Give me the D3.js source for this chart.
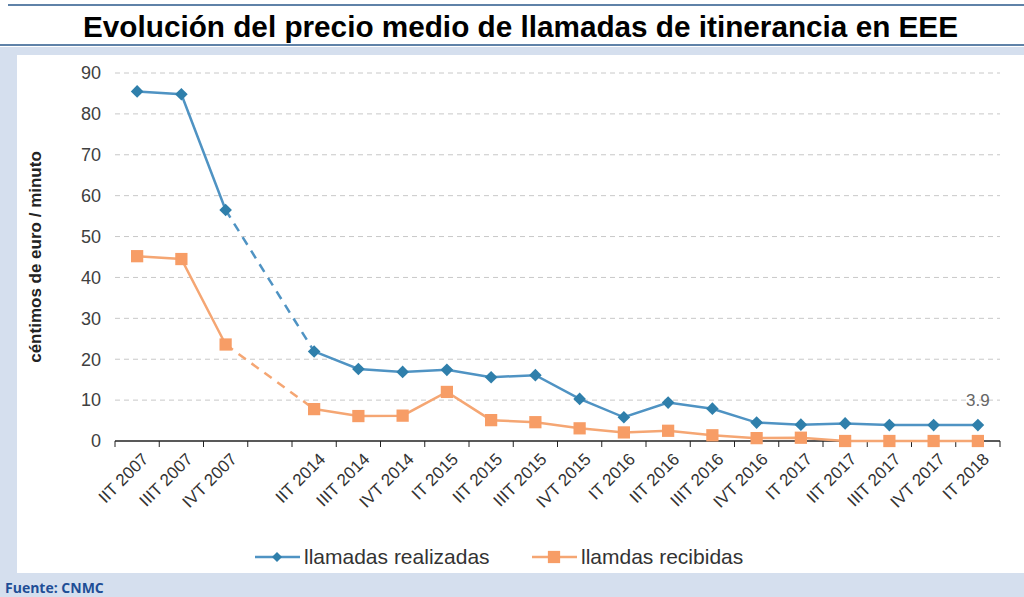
<!DOCTYPE html>
<html>
<head>
<meta charset="utf-8">
<script src="https://cdn.jsdelivr.net/npm/d3@7"></script>
<style>
  body { margin: 0; background: #fff; }
  svg { display: block; font-family: "Liberation Sans", Arial, sans-serif; }
</style>
</head>
<body>
<div id="chart"></div>
<script>
// categories ("" is the empty gap slot between 2007 and 2014)
let periods = ["IIT 2007", "IIIT 2007", "IVT 2007", "",
  "IIT 2014", "IIIT 2014", "IVT 2014", "IT 2015", "IIT 2015", "IIIT 2015", "IVT 2015",
  "IT 2016", "IIT 2016", "IIIT 2016", "IVT 2016", "IT 2017", "IIT 2017", "IIIT 2017",
  "IVT 2017", "IT 2018"];

let realizadas = [85.5, 84.8, 56.5, null,
  21.9, 17.6, 16.9, 17.4, 15.6, 16.1, 10.3,
  5.8, 9.4, 7.9, 4.5, 4.0, 4.3, 3.9, 3.9, 3.9];

let recibidas = [45.2, 44.5, 23.6, null,
  7.8, 6.1, 6.2, 12.0, 5.1, 4.6, 3.1,
  2.1, 2.5, 1.4, 0.7, 0.8, 0.0, 0.0, 0.0, 0.0];

let yTicks = [0, 10, 20, 30, 40, 50, 60, 70, 80, 90];

let width = 1024, height = 597;
let margin = { top: 73, right: 24, bottom: 156, left: 115 };
let chartWidth = width - margin.left - margin.right;
let chartHeight = height - margin.top - margin.bottom;

var svg = d3.select("#chart").append("svg")
  .attr("width", width)
  .attr("height", height);

// frame
svg.append("rect").attr("x", 0).attr("y", 47).attr("width", width).attr("height", height - 47).attr("fill", "#d5dfee");
svg.append("rect").attr("x", 17).attr("y", 55).attr("width", width - 17).attr("height", 518).attr("fill", "#fff");
svg.append("line").attr("x1", 8).attr("x2", width).attr("y1", 5).attr("y2", 5).attr("stroke", "#5f82a8").attr("stroke-width", 2);
svg.append("line").attr("x1", 0).attr("x2", width).attr("y1", 45).attr("y2", 45).attr("stroke", "#5f82a8").attr("stroke-width", 2);

svg.append("text")
  .attr("x", 83).attr("y", 37)
  .attr("textLength", 875).attr("lengthAdjust", "spacingAndGlyphs")
  .attr("font-size", 29).attr("font-weight", "bold")
  .attr("fill", "#000")
  .text("Evolución del precio medio de llamadas de itinerancia en EEE");

svg.append("text")
  .attr("x", 5).attr("y", 593)
  .attr("font-family", "'Open Sans', sans-serif")
  .attr("font-size", 14).attr("font-weight", "bold")
  .attr("fill", "#1f4e96")
  .text("Fuente: CNMC");

var g = svg.append("g")
  .attr("transform", "translate(" + margin.left + "," + margin.top + ")");

var xScale = d3.scaleBand()
  .domain(d3.range(periods.length))
  .range([0, chartWidth]);

var yScale = d3.scaleLinear()
  .domain([0, 90])
  .range([chartHeight, 0]);

var cx = i => xScale(i) + xScale.bandwidth() / 2;

// grid
g.selectAll(".grid")
  .data(yTicks.filter(d => d > 0))
  .enter().append("line")
  .attr("x1", 0).attr("x2", chartWidth)
  .attr("y1", d => yScale(d)).attr("y2", d => yScale(d))
  .attr("stroke", "#c8c8c8").attr("stroke-dasharray", "5,4");

// y axis labels
g.selectAll(".ylab")
  .data(yTicks)
  .enter().append("text")
  .attr("x", -14).attr("y", d => yScale(d))
  .attr("dy", "0.35em")
  .attr("text-anchor", "end")
  .attr("font-size", 18).attr("fill", "#404040")
  .text(d => d);

svg.append("text")
  .attr("transform", "translate(41," + (margin.top + chartHeight / 2) + ") rotate(-90)")
  .attr("text-anchor", "middle")
  .attr("font-size", 17).attr("font-weight", "bold").attr("fill", "#222")
  .text("céntimos de euro / minuto");

// x axis
var xAxis = g.append("g")
  .attr("transform", "translate(0," + chartHeight + ")");
xAxis.append("line").attr("x1", 0).attr("x2", chartWidth).attr("stroke", "#222").attr("stroke-width", 1.5);
xAxis.selectAll(".tick")
  .data(d3.range(periods.length + 1))
  .enter().append("line")
  .attr("x1", i => i * xScale.step()).attr("x2", i => i * xScale.step())
  .attr("y1", 0).attr("y2", 6)
  .attr("stroke", "#222");
xAxis.selectAll(".xlab")
  .data(periods)
  .enter().append("text")
  .attr("transform", (d, i) => "translate(" + (cx(i) + 5) + ",12) rotate(-45)")
  .attr("text-anchor", "end")
  .attr("dy", "0.6em")
  .attr("font-size", 17).attr("fill", "#333")
  .text(d => d);

let series = [
  { name: "llamadas realizadas", values: realizadas, line: "#4f93c3", mark: "#2f7fab", rot: 45, size: 80 },
  { name: "llamdas recibidas", values: recibidas, line: "#f5a673", mark: "#f79d66", rot: 0, size: 150 }
];

var line = d3.line()
  .defined(d => d.v != null)
  .x(d => cx(d.i))
  .y(d => yScale(d.v));

series.forEach(s => {
  var pts = s.values.map((v, i) => ({ i: i, v: v }));
  var gap = pts.findIndex(d => d.v == null);
  g.append("path")
    .datum([pts[gap - 1], pts[gap + 1]])
    .attr("fill", "none").attr("stroke", s.line).attr("stroke-width", 2.5)
    .attr("stroke-dasharray", "9,7")
    .attr("d", line);
  g.append("path")
    .datum(pts)
    .attr("fill", "none").attr("stroke", s.line).attr("stroke-width", 2.5)
    .attr("d", line);
  g.selectAll(null)
    .data(pts.filter(d => d.v != null))
    .enter().append("path")
    .attr("transform", d => "translate(" + cx(d.i) + "," + yScale(d.v) + ") rotate(" + s.rot + ")")
    .attr("d", d3.symbol().type(d3.symbolSquare).size(s.size))
    .attr("fill", s.mark);
});

// data label on last point
var last = realizadas.length - 1;
g.append("text")
  .attr("x", cx(last)).attr("y", yScale(realizadas[last]) - 19)
  .attr("text-anchor", "middle")
  .attr("font-size", 17).attr("fill", "#666")
  .text(realizadas[last].toFixed(1));

// legend
var legend = svg.append("g").attr("transform", "translate(0,557)");
series.forEach((s, k) => {
  var x0 = k === 0 ? 255 : 532;
  legend.append("line").attr("x1", x0).attr("x2", x0 + 45).attr("stroke", s.line).attr("stroke-width", 2.5);
  legend.append("path")
    .attr("transform", "translate(" + (x0 + 22) + ",0) rotate(" + s.rot + ")")
    .attr("d", d3.symbol().type(d3.symbolSquare).size(k === 0 ? 50 : s.size))
    .attr("fill", s.mark);
  legend.append("text")
    .attr("x", x0 + 49).attr("dy", "0.35em")
    .attr("font-size", 21).attr("fill", "#333")
    .text(s.name);
});
</script>
</body>
</html>
